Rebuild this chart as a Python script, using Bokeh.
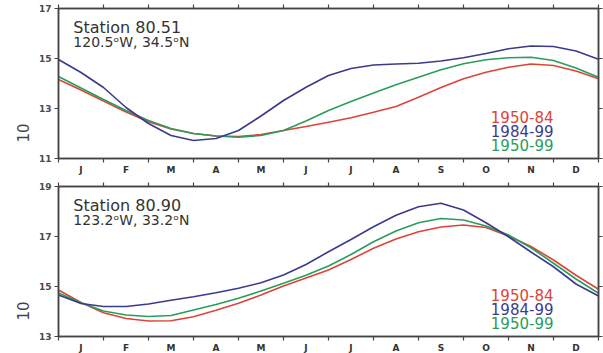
from bokeh.plotting import figure
from bokeh.models import Range1d, FixedTicker, LinearAxis, Label, Title
from bokeh.layouts import column
from bokeh.embed import file_html
from bokeh.resources import INLINE

# month position (in months from 1 Jan) of each reading
month_pos = [0, 0.5, 1, 1.5, 2, 2.5, 3, 3.5, 4, 4.5, 5, 5.5, 6,
             6.5, 7, 7.5, 8, 8.5, 9, 9.5, 10, 10.5, 11, 11.5, 12]
month_labels = ["J", "F", "M", "A", "M", "J", "J", "A", "S", "O", "N", "D"]
month_centers = [0.5, 1.5, 2.5, 3.5, 4.5, 5.5, 6.5, 7.5, 8.5, 9.5, 10.5, 11.5]
month_edges = [0, 1, 2, 3, 4, 5, 6, 7, 8, 9, 10, 11, 12]
series_names = ["1950-84", "1984-99", "1950-99"]
y_label = "10"

# Station 80.51
s1_title = "Station 80.51"
s1_coords = "120.5ᵒW, 34.5ᵒN"
s1_yticks = [11, 13, 15, 17]
s1_red = [14.16, 13.74, 13.30, 12.86, 12.47, 12.18, 12.00, 11.90, 11.88, 11.96, 12.12, 12.28, 12.45,
          12.63, 12.85, 13.08, 13.45, 13.84, 14.19, 14.45, 14.65, 14.78, 14.72, 14.50, 14.19]
s1_blue = [14.96, 14.44, 13.84, 13.04, 12.40, 11.92, 11.72, 11.80, 12.12, 12.70, 13.32, 13.85, 14.32,
           14.60, 14.74, 14.78, 14.81, 14.90, 15.03, 15.20, 15.39, 15.50, 15.48, 15.30, 14.97]
s1_green = [14.28, 13.82, 13.36, 12.92, 12.52, 12.20, 12.00, 11.90, 11.85, 11.92, 12.12, 12.50, 12.92,
            13.28, 13.62, 13.95, 14.25, 14.55, 14.79, 14.95, 15.03, 15.05, 14.92, 14.62, 14.25]

# Station 80.90
s2_title = "Station 80.90"
s2_coords = "123.2ᵒW, 33.2ᵒN"
s2_yticks = [13, 15, 17, 19]
s2_red = [14.86, 14.36, 13.95, 13.72, 13.62, 13.63, 13.79, 14.05, 14.33, 14.66, 15.02, 15.34, 15.66,
          16.08, 16.53, 16.90, 17.19, 17.38, 17.46, 17.36, 17.02, 16.60, 16.06, 15.45, 14.89]
s2_blue = [14.66, 14.32, 14.20, 14.20, 14.30, 14.45, 14.59, 14.75, 14.93, 15.15, 15.46, 15.88, 16.39,
           16.88, 17.39, 17.85, 18.19, 18.33, 18.06, 17.55, 16.99, 16.38, 15.79, 15.10, 14.62]
s2_green = [14.74, 14.35, 14.02, 13.86, 13.80, 13.84, 14.06, 14.28, 14.53, 14.82, 15.13, 15.45, 15.82,
            16.28, 16.79, 17.22, 17.55, 17.72, 17.66, 17.42, 17.06, 16.55, 15.93, 15.30, 14.73]

RED = "#dc4437"
BLUE = "#3c3a8c"
GREEN = "#2a9d5c"
AX = "#444444"
FONT = "DejaVu Sans"


def style_axis(ax):
    ax.axis_line_color = AX
    ax.axis_line_width = 1.5
    ax.major_tick_line_color = AX
    ax.minor_tick_line_color = AX
    ax.major_tick_line_width = 1.2
    ax.minor_tick_line_width = 1.2
    ax.major_label_text_font = FONT
    ax.major_label_text_font_style = "bold"
    ax.major_label_text_color = "#4a4a4a"


def make_panel(title, coords, red, blue, green, yticks, top_b, bot_b):
    p = figure(frame_width=540, frame_height=150,
               x_range=Range1d(month_edges[0], month_edges[-1]),
               y_range=Range1d(yticks[0], yticks[-1]),
               output_backend="svg", toolbar_location=None,
               min_border_left=58, min_border_right=5,
               min_border_top=top_b, min_border_bottom=bot_b,
               x_axis_location=None, y_axis_location=None)
    p.xgrid.visible = False
    p.ygrid.visible = False
    p.outline_line_color = AX
    p.outline_line_width = 1.5
    p.background_fill_color = "white"
    p.border_fill_color = "white"

    # bottom axis: month names between tick marks at month boundaries
    xb = LinearAxis(ticker=FixedTicker(ticks=month_centers, minor_ticks=month_edges))
    style_axis(xb)
    xb.major_tick_out = 0
    xb.major_tick_in = 0
    xb.minor_tick_out = 4
    xb.minor_tick_in = 0
    xb.major_label_overrides = {c: l for c, l in zip(month_centers, month_labels)}
    xb.major_label_text_font_size = "9px"
    xb.major_label_standoff = 2
    xb.major_label_text_color = "#333333"
    p.add_layout(xb, "below")

    # top axis: tick marks only
    xt = LinearAxis(ticker=FixedTicker(ticks=[], minor_ticks=month_edges))
    style_axis(xt)
    xt.minor_tick_out = 4
    xt.minor_tick_in = 0
    xt.major_label_standoff = 0
    p.add_layout(xt, "above")

    yl = LinearAxis(ticker=FixedTicker(ticks=yticks, minor_ticks=[]))
    style_axis(yl)
    yl.major_tick_out = 4
    yl.major_tick_in = 0
    yl.minor_tick_out = 0
    yl.major_label_text_font_size = "9px"
    yl.major_label_standoff = 3
    p.add_layout(yl, "left")

    yr = LinearAxis(ticker=FixedTicker(ticks=[], minor_ticks=yticks))
    style_axis(yr)
    yr.minor_tick_out = 4
    yr.minor_tick_in = 0
    yr.major_label_standoff = 0
    p.add_layout(yr, "right")

    p.add_layout(Title(text=y_label, align="left", offset=16, standoff=14,
                       text_font=FONT, text_font_size="15px", text_font_style="normal",
                       text_color=AX), "left")

    for ys, col in ((red, RED), (green, GREEN), (blue, BLUE)):
        p.line(month_pos, ys, line_color=col, line_width=1.6)

    p.add_layout(Label(x=0.33, y=yticks[-1], y_offset=-19, text=title,
                       text_font=FONT, text_font_size="16px", text_color="#333333",
                       text_baseline="alphabetic"))
    p.add_layout(Label(x=0.33, y=yticks[-1], y_offset=-33, text=coords,
                       text_font=FONT, text_font_size="14px", text_color="#333333",
                       text_baseline="alphabetic"))

    for name, col, off in zip(series_names, (RED, BLUE, GREEN), (42, 28, 14)):
        p.add_layout(Label(x=11.0, y=yticks[0], y_offset=off, text=name,
                           text_font=FONT, text_font_size="15px", text_color=col,
                           text_align="right", text_baseline="middle"))
    return p


p1 = make_panel(s1_title, s1_coords, s1_red, s1_blue, s1_green, s1_yticks, 8, 24)
p2 = make_panel(s2_title, s2_coords, s2_red, s2_blue, s2_green, s2_yticks, 4, 17)

layout = column(p1, p2, spacing=0)
open("out.html", "w").write(file_html(layout, INLINE))
